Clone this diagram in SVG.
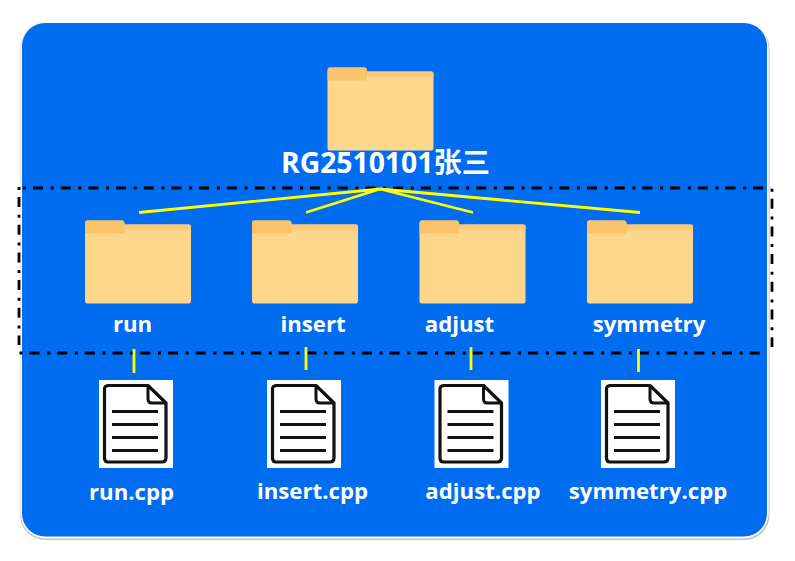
<svg xmlns="http://www.w3.org/2000/svg" xmlns:xlink="http://www.w3.org/1999/xlink" width="795" height="561" viewBox="0 0 795 561">
<style>
.lbl{font-family:"Open Sans","Noto Sans CJK SC",sans-serif;font-weight:700;fill:#fff;font-size:22.2px;text-anchor:middle}
.dash{fill:none;stroke:#000;stroke-width:2.800;stroke-dasharray:3 7 10 7.700}
.link{fill:none;stroke:#ffff00;stroke-width:2.800}
</style>
<defs>
<g id="folder">
<path d="M0 6Q0 0 2 0H37Q39 0 39.500 4H104Q106 4 106 6V80Q106 83 104 83H2Q0 83 0 80Z" fill="#fed68c"/>
<path d="M39.500 4H104Q106 4 106 6V9H39.500Z" fill="#fcc874"/>
<path d="M0 13V2Q0 0 2 0H37Q39 0 39.500 2V13Z" fill="#fbc26c"/>
</g>
<g id="doc">
<rect width="74" height="88" fill="#fff"/>
<path d="M10 5.500H49L67 23V78Q67 82 63 82H9Q5.500 82 5.500 78V9Q5.500 5.500 10 5.500Z" fill="none" stroke="#111" stroke-width="3.200" stroke-linejoin="round"/>
<path d="M49 5.500V19Q49 23 53 23H67" fill="none" stroke="#111" stroke-width="3"/>
<path d="M13 31.500H59M13 44.500H59M13 57.500H59M13 70.500H59" fill="none" stroke="#111" stroke-width="3"/>
</g>
</defs>
<rect id="panel-shadow" x="20" y="24" width="749.500" height="516" rx="25" fill="#c4c4c4"/>
<rect id="panel-edge" x="20.500" y="23" width="748" height="515.500" rx="25" fill="#fff"/>
<rect id="panel" x="22" y="23" width="745" height="513.500" rx="23" fill="#006cf0"/>
<g id="region">
<path class="dash" d="M23 188H771"/>
<path class="dash" d="M19.500 353H767"/>
<path class="dash" d="M19 187V345"/>
<path class="dash" d="M772 188.700V347"/>
</g>
<g id="connectors">
<path class="link" d="M139 212.500L380 189M306 212.500L380 189M473 212.500L380 189M640 212.500L380 189"/>
<path class="link" d="M134 349V373M306 347V370M471 347V370M638.500 349V372"/>
</g>
<g id="root"><use xlink:href="#folder" href="#folder" x="327.500" y="67.500"/><text class="lbl" x="385.500" y="173" style="font-size:28.300px">RG2510101张三</text></g>
<g id="run"><use xlink:href="#folder" href="#folder" x="85" y="220.500"/><text class="lbl" x="132.500" y="332">run</text></g>
<g id="insert"><use xlink:href="#folder" href="#folder" x="252" y="220.500"/><text class="lbl" x="313" y="332">insert</text></g>
<g id="adjust"><use xlink:href="#folder" href="#folder" x="419.500" y="220.500"/><text class="lbl" x="459.500" y="332">adjust</text></g>
<g id="symmetry"><use xlink:href="#folder" href="#folder" x="587" y="220.500"/><text class="lbl" x="649" y="332">symmetry</text></g>
<g id="run-cpp"><use xlink:href="#doc" href="#doc" x="99" y="380"/><text class="lbl" x="131.500" y="500">run.cpp</text></g>
<g id="insert-cpp"><use xlink:href="#doc" href="#doc" x="267" y="380"/><text class="lbl" x="312.500" y="499">insert.cpp</text></g>
<g id="adjust-cpp"><use xlink:href="#doc" href="#doc" x="434.500" y="380"/><text class="lbl" x="483" y="499">adjust.cpp</text></g>
<g id="symmetry-cpp"><use xlink:href="#doc" href="#doc" x="601" y="380"/><text class="lbl" x="648" y="499">symmetry.cpp</text></g>
</svg>
